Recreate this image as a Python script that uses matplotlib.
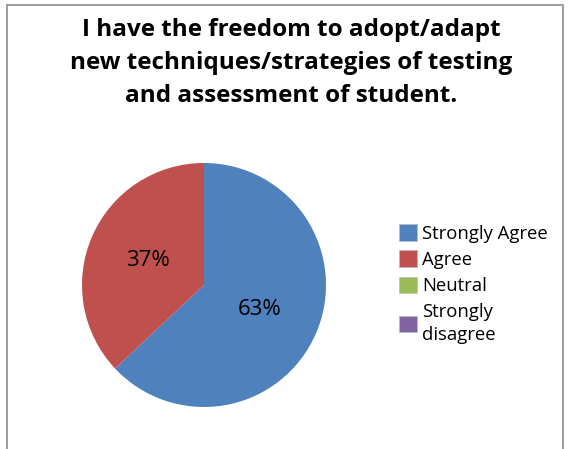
import matplotlib.pyplot as plt
from matplotlib.patches import Rectangle

# data
labels = ['Strongly Agree', 'Agree', 'Neutral', 'Strongly\ndisagree']
values = [63, 37, 0, 0]
colors = ['#4F81BD', '#C0504D', '#9BBB59', '#8064A2']
title = 'I have the freedom to adopt/adapt\nnew techniques/strategies of testing\nand assessment of student.'

W, H = 570, 449
fig = plt.figure(figsize=(W / 100, H / 100), dpi=100)
plt.rcParams['font.family'] = ['Open Sans', 'DejaVu Sans']

# chart border
fig.patches.append(Rectangle((7 / W, -0.05), 556 / W, (H - 5) / H + 0.05, transform=fig.transFigure,
                             fill=False, edgecolor='#8c8c8c', linewidth=1.2))

fig.text(291 / W, 1 - 63 / H, title, ha='center', va='center', fontsize=17.5, fontweight='bold',
         linespacing=1.52, color='black')

ax = fig.add_axes([82 / W, 42 / H, 244 / W, 244 / H])
wedges, texts = ax.pie(values[:2], colors=colors[:2], startangle=90, counterclock=False,
                       labels=[f'{v}%' for v in values[:2]], labeldistance=0.5,
                       wedgeprops=dict(linewidth=0))
for t in texts:
    t.set_ha('center')
    t.set_va('center')
    t.set_fontsize(16)
ax.set_xlim(-1, 1)
ax.set_ylim(-1, 1)
ax.set_aspect('equal')

handles = [Rectangle((0, 0), 1, 1, facecolor=c, edgecolor='#bbbbbb', linewidth=0.5) for c in colors]
leg = fig.legend(handles, labels, loc='upper left', bbox_to_anchor=(399 / W, 1 - 224 / H),
                 frameon=False, fontsize=13.3, handlelength=1.0, handleheight=1.0, handletextpad=0.25,
                 labelspacing=0.42, borderaxespad=0, borderpad=0)
for t in leg.get_texts():
    t.set_linespacing(1.35)

fig.savefig('out.png', dpi=100)
